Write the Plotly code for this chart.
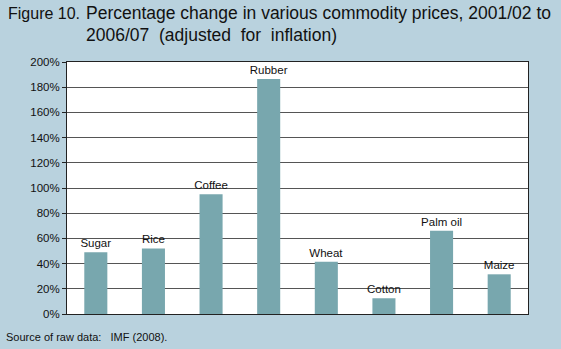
import plotly.graph_objects as go

categories = ["Sugar", "Rice", "Coffee", "Rubber", "Wheat", "Cotton", "Palm oil", "Maize"]
values = [49, 52, 95, 186.5, 41.5, 12.5, 66, 31.5]
tick_vals = list(range(0, 201, 20))
tick_text = [f"{v}%" for v in tick_vals]

BG = "#b9d2de"
BAR = "#78a7ae"
FONT = "Liberation Sans, Arial, sans-serif"

W, H = 561, 349
pl, pr, pt, pb = 67, 33, 62, 35
pw, ph = W - pl - pr, H - pt - pb
def px(x): return (x - pl) / pw
def py(y): return (H - pb - y) / ph

fig = go.Figure(go.Bar(
    x=categories, y=values, marker=dict(color=BAR, line=dict(width=0)),
    text=categories, textposition="outside", cliponaxis=False,
    constraintext="none",
    textfont=dict(family=FONT, size=11.5, color="#111"),
))

fig.update_layout(
    width=W, height=H,
    margin=dict(l=pl, r=pr, t=pt, b=pb),
    paper_bgcolor=BG, plot_bgcolor="white",
    bargap=0.6, showlegend=False,
    font=dict(family=FONT, size=11, color="#111"),
    xaxis=dict(showticklabels=False, ticks="", showline=True, linecolor="#222",
               linewidth=1, mirror=True, showgrid=False),
    yaxis=dict(range=[0, 200], tickvals=tick_vals, ticktext=tick_text,
               showgrid=True, gridcolor="#555", gridwidth=1,
               showline=True, linecolor="#222", linewidth=1, mirror=True,
               ticks="outside", ticklen=4, tickcolor="#222", zeroline=False,
               tickfont=dict(family=FONT, size=11.5, color="#111")),
)

gap2 = "\u00a0\u00a0"
line1 = "Percentage change in various commodity prices, 2001/02 to"
line2 = "2006/07 (adjusted for inflation)".split(" ")
fig.add_annotation(text="Figure 10.", x=px(6), y=py(13), xref="paper", yref="paper",
                   xanchor="left", yanchor="middle", showarrow=False,
                   font=dict(family=FONT, size=16, color="#111"))
fig.add_annotation(text=line1,
                   x=px(84), y=py(13), xref="paper", yref="paper",
                   xanchor="left", yanchor="middle", showarrow=False,
                   font=dict(family=FONT, size=17.5, color="#111"))
fig.add_annotation(text=gap2.join(line2),
                   x=px(84), y=py(35), xref="paper", yref="paper",
                   xanchor="left", yanchor="middle", showarrow=False,
                   font=dict(family=FONT, size=17.5, color="#111"))
fig.add_annotation(text="Source of raw data:   IMF (2008).",
                   x=px(4), y=py(337), xref="paper", yref="paper",
                   xanchor="left", yanchor="middle", showarrow=False,
                   font=dict(family=FONT, size=11, color="#111"))

fig.write_html("out.html")
